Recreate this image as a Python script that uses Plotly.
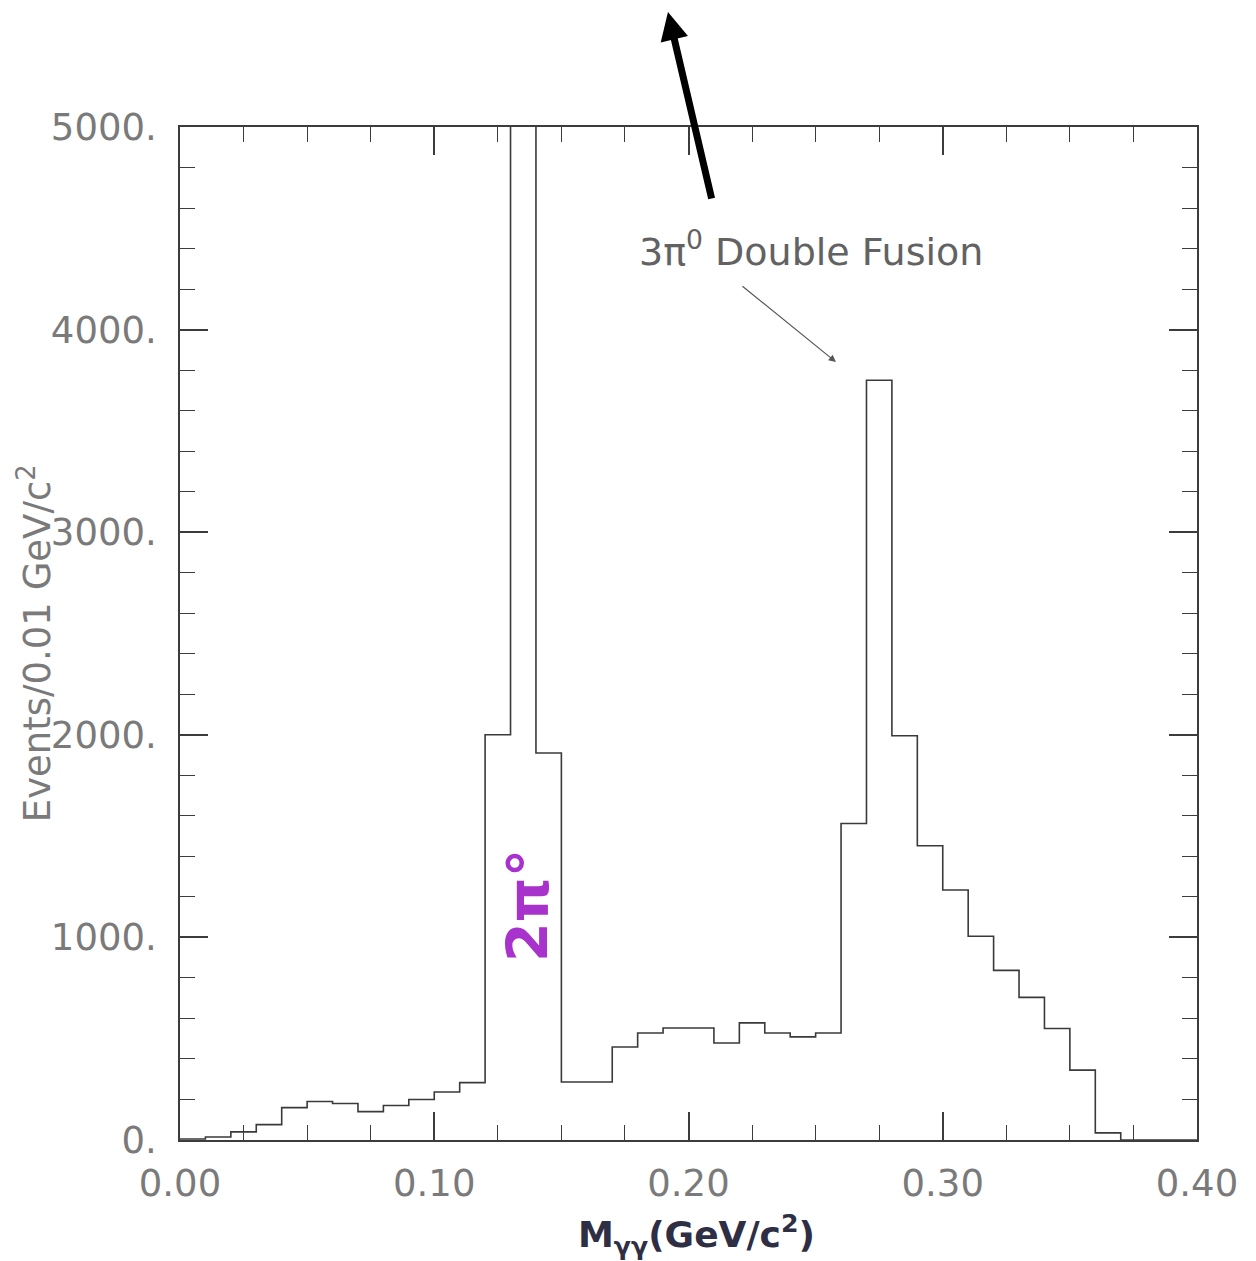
import plotly.graph_objects as go

# ---- data ----
bin_edges = [round(0.01 * i, 2) for i in range(41)]
counts = [5, 15, 40, 76, 160, 190, 180, 140, 170, 200,
          237, 283, 2000, 9000, 1910, 286, 286, 459, 528, 553,
          553, 479, 578, 528, 509, 528, 1562, 3750, 1995, 1452,
          1234, 1006, 837, 704, 550, 345, 35, 0, 0, 0]
x_tickvals = [0.0, 0.1, 0.2, 0.3, 0.4]
x_ticktext = ["0.00", "0.10", "0.20", "0.30", "0.40"]
y_tickvals = [0, 1000, 2000, 3000, 4000, 5000]
y_ticktext = ["0.", "1000.", "2000.", "3000.", "4000.", "5000."]

xs = bin_edges[:-1] + [bin_edges[-1]]
ys = counts + [counts[-1]]

FONT = "DejaVu Sans"
GRAY = "#7a7a7a"
LINE = "#3c3c3c"

fig = go.Figure()
fig.add_trace(go.Scatter(x=xs, y=ys, mode="lines", line=dict(shape="hv", color="#3a3a3a", width=1.6),
                         hoverinfo="skip", showlegend=False))

axis_common = dict(showline=True, linecolor=LINE, linewidth=1.6, mirror="allticks",
                   ticks="inside", tickcolor=LINE, tickwidth=1.6, ticklen=28,
                   showgrid=False, zeroline=False,
                   tickfont=dict(family=FONT, size=37, color=GRAY))

fig.update_xaxes(range=[0, 0.4], tickvals=x_tickvals, ticktext=x_ticktext,
                 ticklabelstandoff=10,
                 minor=dict(dtick=0.025, tick0=0, ticks="inside", ticklen=15, tickcolor=LINE, tickwidth=1.4),
                 **axis_common)
fig.update_yaxes(range=[0, 5000], tickvals=y_tickvals, ticktext=y_ticktext,
                 ticklabelstandoff=14,
                 minor=dict(dtick=200, tick0=0, ticks="inside", ticklen=15, tickcolor=LINE, tickwidth=1.4),
                 **axis_common)

annotations = [
    # y-axis title
    dict(text="Events/0.01 GeV/c<sup>2</sup>", xref="paper", yref="paper", x=-0.142, y=0.49,
         textangle=-90, showarrow=False, font=dict(family=FONT, size=37, color=GRAY),
         xanchor="center", yanchor="middle"),
    # x-axis title
    dict(text="<b>M<sub>γγ</sub>(GeV/c<sup>2</sup>)</b>", xref="paper", yref="paper", x=0.508, y=-0.094,
         showarrow=False, font=dict(family=FONT, size=36, color="#2e2e44"),
         xanchor="center", yanchor="middle"),
    # label text
    dict(text="3π<sup>0</sup> Double Fusion", xref="paper", yref="paper", x=0.62, y=0.88,
         showarrow=False, font=dict(family=FONT, size=38, color="#626262"),
         xanchor="center", yanchor="middle"),
    # thin arrow to peak
    dict(text="", x=0.258, y=3840, xref="x", yref="y", showarrow=True, ax=-95, ay=-77,
         arrowhead=2, arrowsize=1.2, arrowwidth=1.2, arrowcolor="#555555"),
    # handwritten 2π°
    dict(text="<b>2π°</b>", x=0.1369, y=1155, xref="x", yref="y", textangle=-90, showarrow=False,
         font=dict(family=FONT, size=57, color="#a833cc"), xanchor="center", yanchor="middle"),
    # hand-drawn big arrow
    dict(text="", xref="paper", yref="paper", x=0.4798, y=1.1135, showarrow=True, ax=44, ay=188,
         arrowhead=2, arrowsize=0.8, arrowwidth=7, arrowcolor="#000000"),
]

fig.update_layout(width=1256, height=1261,
                  margin=dict(l=180, r=59, t=127, b=121),
                  paper_bgcolor="white", plot_bgcolor="white",
                  annotations=annotations, showlegend=False)

fig.write_html("out.html")
